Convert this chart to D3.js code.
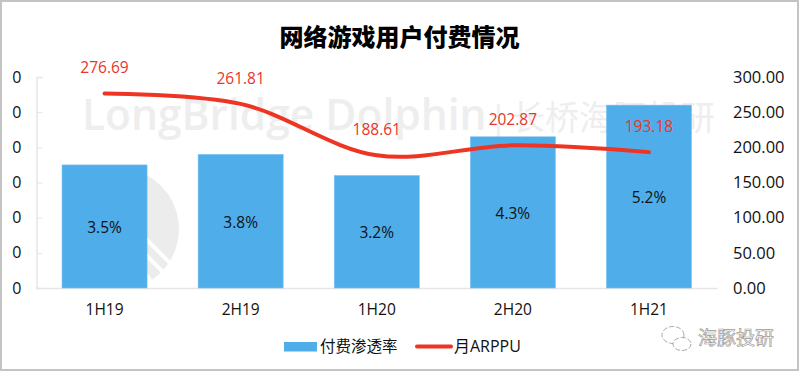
<!DOCTYPE html>
<html>
<head>
<meta charset="utf-8">
<script src="https://cdnjs.cloudflare.com/ajax/libs/d3/7.8.5/d3.min.js"></script>
<style>
  html, body { margin: 0; padding: 0; background: #fff; overflow: hidden; }
  text { font-family: "Open Sans", "Noto Sans CJK SC", sans-serif; }
</style>
</head>
<body>
<div id="chart"></div>
<script>
// Dati del grafico
const periods = ["1H19", "2H19", "1H20", "2H20", "1H21"];
const payRate = [3.5, 3.8, 3.2, 4.3, 5.2];
const arppu = [276.69, 261.81, 188.61, 202.87, 193.18];
const leftTicks = [0, 1, 2, 3, 4, 5, 6];
const rightTicks = [0, 50, 100, 150, 200, 250, 300];

const width = 800, height = 373;
const margin = { top: 77, right: 83, bottom: 85, left: 36.5 };
const innerW = width - margin.left - margin.right;
const innerH = height - margin.top - margin.bottom;

const svg = d3.select("#chart").append("svg")
    .attr("width", width)
    .attr("height", height);

// Cornice
svg.append("rect")
    .attr("x", 1).attr("y", 1)
    .attr("width", 797).attr("height", 369)
    .attr("fill", "#fff")
    .attr("stroke", "#c4c4c4")
    .attr("stroke-width", 2);

// Filigrana (sotto le barre)
const mark = svg.append("text")
    .attr("x", 82).attr("y", 130)
    .attr("fill", "#eeeeee");
mark.append("tspan").attr("font-size", 42.5).attr("font-weight", 600).text("LongBridge Dolphin");
mark.append("tspan").attr("font-size", 34).attr("x", 489).text("|");
mark.append("tspan").attr("font-size", 34).attr("x", 511).text("长桥海豚投研");

const logoArc = d3.arc().innerRadius(0).outerRadius(61).startAngle(0).endAngle(2.55);
const logo = svg.append("g").attr("transform", "translate(118,229)");
logo.append("path").attr("d", logoArc()).attr("fill", "#ececec");
[[20, 2, 60, 42], [20, 18, 50, 48]].forEach(s => {
  logo.append("line")
      .attr("x1", s[0]).attr("y1", s[1])
      .attr("x2", s[2]).attr("y2", s[3])
      .attr("stroke", "#fff")
      .attr("stroke-width", 4);
});

const g = svg.append("g").attr("transform", `translate(${margin.left},${margin.top})`);

const x = d3.scaleBand().domain(periods).range([0, innerW]).paddingInner(0.375).paddingOuter(0.1875);
const yLeft = d3.scaleLinear().domain([0, 6]).range([innerH, 0]);
const yRight = d3.scaleLinear().domain([0, 300]).range([innerH, 0]);

// Assi
const axisLeft = g.append("g")
    .call(d3.axisLeft(yLeft).tickValues(leftTicks).tickSize(-6).tickFormat(() => "0"));
axisLeft.selectAll("line").attr("stroke", "#e6e6e6");
axisLeft.select(".domain").attr("stroke", "#e6e6e6").attr("stroke-width", 1.5);
axisLeft.selectAll("text").attr("x", -15).attr("font-size", 16).attr("fill", "#111");

const axisBottom = g.append("g")
    .attr("transform", `translate(0,${innerH})`)
    .call(d3.axisBottom(x).tickSize(0).tickPadding(16));
axisBottom.select(".domain").attr("stroke", "#e6e6e6").attr("stroke-width", 1.5);
axisBottom.selectAll("text").attr("font-size", 15.5).attr("fill", "#111");

const axisRight = g.append("g")
    .attr("transform", `translate(${innerW},0)`)
    .call(d3.axisRight(yRight).tickValues(rightTicks).tickSize(0).tickPadding(16).tickFormat(d3.format(".2f")));
axisRight.select(".domain").remove();
axisRight.selectAll("text").attr("font-size", 16.5).attr("fill", "#111");

// Barre
g.selectAll(".bar")
    .data(periods)
    .enter().append("rect")
    .attr("class", "bar")
    .attr("x", d => x(d))
    .attr("y", (d, i) => yLeft(payRate[i]))
    .attr("width", x.bandwidth())
    .attr("height", (d, i) => innerH - yLeft(payRate[i]))
    .attr("fill", "#4fadea")
    .attr("stroke", "#7cc4f2")
    .attr("stroke-width", 0.6);

g.selectAll(".bar-label")
    .data(periods)
    .enter().append("text")
    .attr("class", "bar-label")
    .attr("x", d => x(d) + x.bandwidth() / 2)
    .attr("y", (d, i) => (yLeft(payRate[i]) + innerH) / 2 + 6.5)
    .attr("text-anchor", "middle")
    .attr("font-size", 15.5)
    .attr("fill", "#111")
    .text((d, i) => payRate[i].toFixed(1) + "%");

// Linea
const line = d3.line()
    .x((d, i) => x(periods[i]) + x.bandwidth() / 2)
    .y(d => yRight(d))
    .curve(d3.curveCatmullRom.alpha(0.5));

g.append("path")
    .datum(arppu)
    .attr("d", line)
    .attr("fill", "none")
    .attr("stroke", "#ee3524")
    .attr("stroke-width", 4)
    .attr("stroke-linecap", "round");

g.selectAll(".line-label")
    .data(periods)
    .enter().append("text")
    .attr("class", "line-label")
    .attr("x", d => x(d) + x.bandwidth() / 2)
    .attr("y", (d, i) => yRight(arppu[i]) - 20)
    .attr("text-anchor", "middle")
    .attr("font-size", 15.5)
    .attr("fill", "#e8362a")
    .text((d, i) => arppu[i].toFixed(2));

// Titolo
svg.append("text")
    .attr("x", 399.5).attr("y", 46)
    .attr("text-anchor", "middle")
    .attr("font-size", 24)
    .attr("font-weight", 900)
    .attr("fill", "#000")
    .text("网络游戏用户付费情况");

// Legenda
const legend = svg.append("g");
legend.append("rect")
    .attr("x", 284).attr("y", 342)
    .attr("width", 33).attr("height", 9.5)
    .attr("fill", "#4fadea");
legend.append("text")
    .attr("x", 320).attr("y", 352)
    .attr("font-size", 15.5)
    .attr("fill", "#111")
    .text("付费渗透率");
legend.append("line")
    .attr("x1", 417).attr("x2", 451)
    .attr("y1", 346.5).attr("y2", 346.5)
    .attr("stroke", "#ee3524")
    .attr("stroke-width", 4)
    .attr("stroke-linecap", "round");
legend.append("text")
    .attr("x", 454).attr("y", 352)
    .attr("font-size", 16)
    .attr("fill", "#111")
    .text("月ARPPU");

// Marchio in basso a destra
[[673, 335, 11, 8.5], [682, 344, 9, 6.5]].forEach(b => {
  svg.append("ellipse")
      .attr("cx", b[0]).attr("cy", b[1])
      .attr("rx", b[2]).attr("ry", b[3])
      .attr("fill", "#fff")
      .attr("stroke", "#a8a8a8")
      .attr("stroke-width", 1)
      .attr("stroke-dasharray", "5 2");
});
svg.append("text")
    .attr("x", 698).attr("y", 345)
    .attr("font-size", 19)
    .attr("fill", "#fff")
    .attr("stroke", "#9a9a9a")
    .attr("stroke-width", 0.7)
    .text("海豚投研");
</script>
</body>
</html>
